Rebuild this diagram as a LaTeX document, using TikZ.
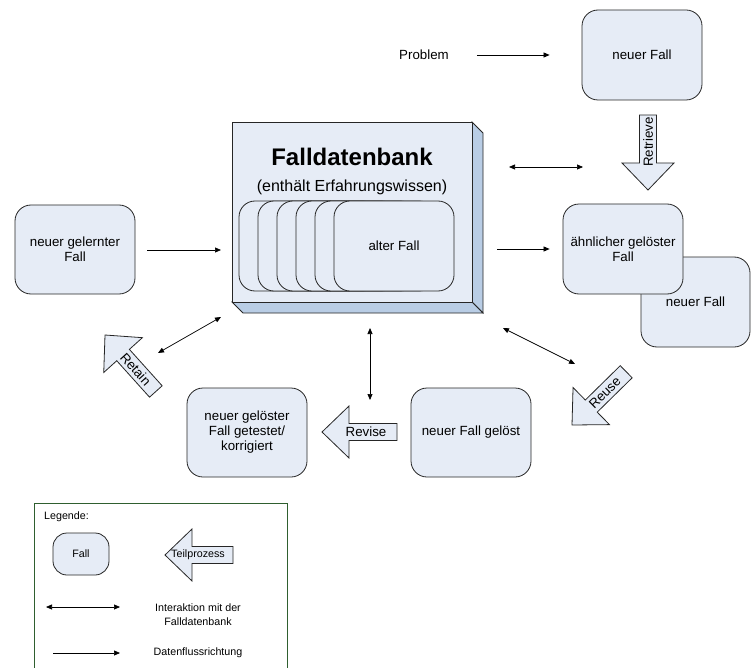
\documentclass[tikz,border=0pt]{standalone}
\usepackage{fontspec}
\setmainfont{Liberation Sans}
\usetikzlibrary{arrows.meta}
\definecolor{boxfill}{HTML}{E6ECF6}
\definecolor{sidefill}{HTML}{B9CDE5}
\definecolor{legendgreen}{HTML}{2F5F2F}
\newcommand{\fsmall}{\fontsize{13.3}{15}\selectfont}
\newcommand{\flegend}{\fontsize{10.7}{14}\selectfont}
\tikzset{
  fall/.style={draw=black!85, line width=0.8pt, fill=boxfill, rounded corners=16pt,
    minimum width=120pt, minimum height=90pt, align=center, font=\fsmall, inner sep=2pt},
  conn/.style={line width=0.7pt, -{Triangle[length=6pt,width=5pt]}},
  dconn/.style={line width=0.7pt, {Triangle[length=6pt,width=5pt]}-{Triangle[length=6pt,width=5pt]}},
  barrow/.style={draw=black!85, line width=0.8pt, fill=boxfill, line join=miter},
  batext/.style={font=\fsmall},
  txt/.style={font=\fsmall, inner sep=1pt},
  pics/blockarrow/.style n args={3}{code={
    \draw[barrow] (0,0) -- (27,-26) -- (27,-8.5) -- (#1,-8.5) -- (#1,8.5) -- (27,8.5) -- (27,26) -- cycle;
    \node[transform shape, batext, inner sep=0pt] (-t) at (#2,0) {#3};
  }}
}
\begin{document}
\begin{tikzpicture}[x=1pt,y=-1pt]
\useasboundingbox (0,0) rectangle (751,668);

% Falldatenbank 3D box
\fill[sidefill, draw=black!85, line width=0.8pt] (472,122) -- (483,133) -- (483,313) -- (472,302) -- cycle;
\fill[sidefill, draw=black!85, line width=0.8pt] (232,302) -- (243,313) -- (483,313) -- (472,302) -- cycle;
\node[draw=black!85, line width=0.8pt, fill=boxfill, minimum width=240pt, minimum height=180pt, inner sep=0pt] (db) at (352,212) {};
\node[font=\bfseries\fontsize{24}{28}\selectfont, inner sep=0pt] (dbtitle) at (352,157) {Falldatenbank};
\node[font=\fontsize{16}{19}\selectfont, inner sep=0pt] (dbsub) at (352,187) {(enthält Erfahrungswissen)};
\foreach \i/\cx in {1/299,2/318,3/337,4/356,5/375}{
  \node[fall] (alt\i) at (\cx,246) {};
}
\node[fall] (alt6) at (394,246) {alter Fall};

% case boxes
\node[txt] (problem) at (424,55) {Problem};
\node[fall] (neuF) at (642,55) {neuer Fall};
\node[fall, minimum width=109pt] (neuF2) at (695.5,302) {neuer Fall};
\node[fall] (aehn) at (623,249) {ähnlicher gelöster\\Fall};
\node[fall, minimum height=89pt] (gelernt) at (75,249.5) {neuer gelernter\\Fall};
\node[fall, minimum height=89pt] (getestet) at (247,432.5) {neuer gelöster\\Fall getestet/\\korrigiert};
\node[fall, minimum height=89pt] (geloest) at (471,432.5) {neuer Fall gelöst};

% connectors
\draw[conn] ([xshift=27pt]problem.east) -- ([xshift=-32pt]neuF.west);
\coordinate (tdA) at (509,167);
\coordinate (tdB) at (583,167);
\draw[dconn] (tdA) -- (tdB);
\coordinate (raA) at (497,249);
\draw[conn] (raA) -- ([xshift=-13pt]aehn.west);
\coordinate (gaB) at (221,250);
\draw[conn] ([xshift=12pt]gelernt.east |- gaB) -- (gaB);
\coordinate (ldA) at (158,353);
\coordinate (ldB) at (221,317);
\draw[dconn] (ldA) -- (ldB);
\coordinate (vdA) at (370,328);
\coordinate (vdB) at (370,400);
\draw[dconn] (vdA) -- (vdB);
\coordinate (rdA) at (503,328);
\coordinate (rdB) at (575,364);
\draw[dconn] (rdA) -- (rdB);

% block arrows (Teilprozesse)
\pic (retrieve) at (648,190) [rotate=90] {blockarrow={75}{48}{Retrieve}};
\pic (reuse) at (572,425) [rotate=44.5] {blockarrow={76}{46}{Reuse}};
\pic (retain) at (105,335) [rotate=-48] {blockarrow={76}{46}{Retain}};
\pic (revise) at (322,432) {blockarrow={75}{44}{Revise}};

% legend
\draw[legendgreen, line width=0.8pt] (34,670) -- (34,503) -- (287,503) -- (287,670);
\node[anchor=west, font=\flegend, inner sep=0pt] (leg) at (44,517) {Legende:};
\node[fall, rounded corners=14pt, minimum width=56pt, minimum height=42pt, font=\flegend] (legfall) at (81,554) {Fall};
\begin{scope}[batext/.style={font=\flegend}]
\pic (legarrow) at (165,555) {blockarrow={68}{33}{Teilprozess}};
\end{scope}
\coordinate (lgA) at (46,607);
\coordinate (lgB) at (120,607);
\draw[dconn] (lgA) -- (lgB);
\node[font=\flegend, align=center, inner sep=0pt] (leginter) at (198,614.5) {Interaktion mit der\\Falldatenbank};
\coordinate (lsA) at (53,653);
\coordinate (lsB) at (120,653);
\draw[conn] (lsA) -- (lsB);
\node[font=\flegend, inner sep=0pt] (legdaten) at (198,653) {Datenflussrichtung};
\end{tikzpicture}
\end{document}
